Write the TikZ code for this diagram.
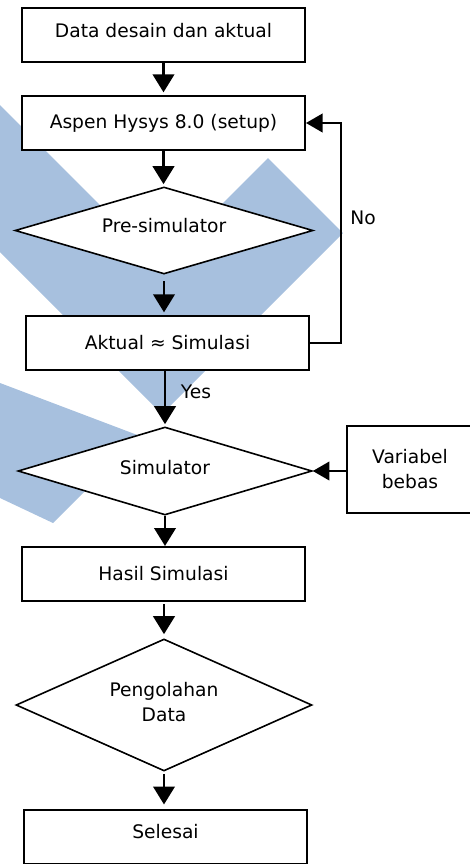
\documentclass[tikz,border=0pt]{standalone}
\usepackage{fontspec}
\setmainfont{DejaVu Sans}
\usetikzlibrary{shapes.geometric,arrows.meta}
\definecolor{wm}{RGB}{167,192,222}
\begin{document}
\begin{tikzpicture}[x=0.75pt,y=-0.75pt,
  font=\fontsize{14}{18.75}\selectfont,
  box/.style={draw, line width=1.5pt, fill=white, minimum width=212.25pt, minimum height=40.5pt, inner sep=0pt},
  dia/.style={draw, shape=diamond, line width=1.2pt, fill=white, inner sep=0pt, align=center},
  arr/.style={line width=2.2pt, -{Triangle[length=13.5pt,width=16pt]}},
  thinarr/.style={line width=1.6pt, -{Triangle[length=12.5pt,width=14pt]}},
  lbl/.style={inner sep=0pt}]
\useasboundingbox (0,0) rectangle (470,864);
% watermark shapes
\fill[wm] (0,105) -- (160.5,265.5) -- (268,158) -- (343,233) -- (162,414) -- (0,252) -- cycle;
\fill[wm] (0,383) -- (140,436) -- (53,523) -- (0,498) -- cycle;
% nodes
\node[box] (b1) at (163.5,35) {};
\node[lbl] (t1) at (163.5,31) {Data desain dan aktual};
\node[box] (b2) at (163.5,123) {Aspen Hysys 8.0 (setup)};
\node[dia, minimum width=223.5pt, minimum height=65.25pt] (d1) at (164,230.5) {};
\node[lbl] (t2) at (164,226) {Pre-simulator};
\node[box] (b3) at (167.5,343) {Aktual ≈ Simulasi};
\node[dia, minimum width=220.5pt, minimum height=66pt] (d2) at (165,471) {};
\node[lbl] (t3) at (165,468) {Simulator};
\node[draw, line width=1.5pt, fill=white, minimum width=94.5pt, minimum height=65.25pt, inner sep=0pt, align=center] (vb) at (410,469.5) {Variabel\\bebas};
\node[box] (b4) at (163.5,574) {Hasil Simulasi};
\node[dia, minimum width=222pt, minimum height=99pt] (d3) at (164,705) {};
\node[lbl, align=center] (t4) at (164,702) {Pengolahan\\Data};
\node[box] (b5) at (165.5,836.5) {};
\node[lbl] (t5) at (165.5,832) {Selesai};
\node[lbl] (no) at (363,218) {No};
\node[lbl] (yes) at (196,392) {Yes};
% connectors
\draw[arr, shorten >=2pt] (b1) -- (b2);
\draw[arr, shorten >=1.5pt] (b2.south) -- (b2.south |- d1.north);
\draw[arr, shorten <=5pt, shorten >=2pt] (d1.south) -- (d1.south |- b3.north);
\draw[arr, shorten >=1.5pt] (d2.north |- b3.south) -- (d2.north);
\draw[arr] (d2.south) -- (d2.south |- b4.north);
\draw[arr, shorten <=1.5pt, shorten >=3pt] (d3.north |- b4.south) -- (d3.north);
\draw[arr, shorten <=1.5pt, shorten >=3pt] (d3.south) -- (d3.south |- b5.north);
\draw[thinarr] (b3.east) -- ++(31,0) |- (b2.east);
\draw[thinarr] (vb.west |- d2.east) -- (d2.east);
\end{tikzpicture}
\end{document}
